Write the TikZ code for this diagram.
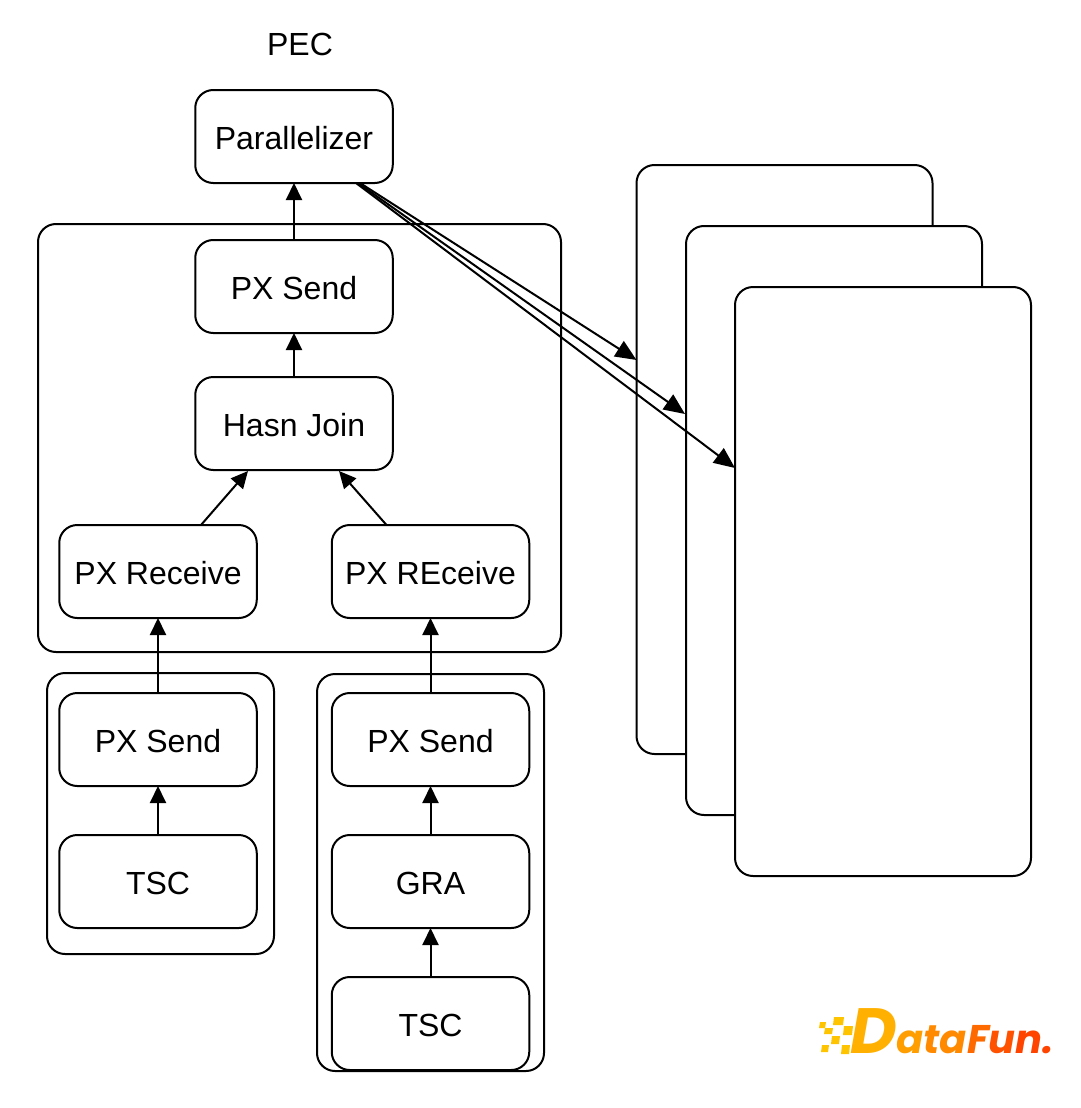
\documentclass[tikz,border=0pt]{standalone}
\usepackage{fontspec}
\setmainfont{Liberation Sans}
\newfontfamily\logofont{Poppins}
\usetikzlibrary{positioning,calc,arrows.meta}
\definecolor{logoa}{HTML}{FFC400}
\definecolor{logob}{HTML}{FFB000}
\definecolor{logoc}{HTML}{FF9E00}
\definecolor{logod}{HTML}{FF8A00}
\definecolor{logoe}{HTML}{FF6A00}
\definecolor{logof}{HTML}{FF5200}
\definecolor{logog}{HTML}{FF4400}
\tikzset{
  op/.style={rectangle, rounded corners=18pt, minimum width=197.5pt, minimum height=93pt, text centered, text height=25pt, text depth=0pt, draw=black, outer sep=0pt, font=\fontsize{32}{36}\selectfont},
  gr/.style={rectangle, rounded corners=18pt, draw=black, outer sep=0pt},
  pn/.style={rectangle, rounded corners=18pt, minimum width=296pt, minimum height=589pt, draw=black, fill=white, outer sep=0pt},
  ar/.style={-{Triangle[length=17pt,width=16pt]}},
  fan/.style={-{Triangle[length=21pt,width=18pt]}}
}
\begin{document}
\begin{tikzpicture}[x=1pt,y=-1pt,line width=2pt]
	\useasboundingbox (0,0) rectangle (1080,1108);
	\node[gr,minimum width=523pt,minimum height=428pt] (main) at (299.5,438) {};
	\node[gr,minimum width=227pt,minimum height=281pt] (grpl) at (160.5,813.5) {};
	\node[gr,minimum width=227pt,minimum height=397pt] (grpr) at (430.5,872.5) {};
	\node[pn] (pnla) at (784.5,459.5) {};
	\node[pn] (pnlb) at (834,520.5) {};
	\node[pn] (pnlc) at (883,581.5) {};
	\node[font=\fontsize{32}{36}\selectfont] (pec) at (300,44) {PEC};
	\node[op] (para) at (294,136.5) {Parallelizer};
	\node[op] (send) at (294,286.5) {PX Send};
	\node[op] (join) at (294,423.5) {Hasn Join};
	\node[op] (recvl) at (158,571.5) {PX Receive};
	\node[op] (recvr) at (430.5,571.5) {PX REceive};
	\node[op] (sendl) at (158,739.5) {PX Send};
	\node[op] (tscl) at (158,881.5) {TSC};
	\node[op] (sendr) at (430.5,739.5) {PX Send};
	\node[op] (gra) at (430.5,881.5) {GRA};
	\node[op] (tscr) at (430.5,1023.5) {TSC};
	\draw[ar] (send) -- (para);
	\draw[ar] (join) -- (send);
	\draw[ar] ($(recvl.north)+(43,0)$) -- ($(join.south)+(-46,1)$);
	\draw[ar] ($(recvr.north)+(-44,0)$) -- ($(join.south)+(45,1)$);
	\draw[ar] (sendl) -- (recvl);
	\draw[ar] (sendr) -- (recvr);
	\draw[ar] (tscl) -- (sendl);
	\draw[ar] (gra) -- (sendr);
	\draw[ar] (tscr) -- (gra);
	\draw[fan] ($(para.south)+(66,0)$) -- ($(pnla.north west)+(0,195)$);
	\draw[fan] ($(para.south)+(64,0)$) -- ($(pnlb.north west)+(-1,188)$);
	\draw[fan] ($(para.south)+(62,0)$) -- ($(pnlc.north west)+(0,181)$);
	\foreach \x/\y/\w/\h in {819/1022/7/6,833/1017/11/8,824/1028/9/6,843/1026/10/9,831/1036/9/8,821/1045/8/7,841/1045/9/9}
		\fill[logoa] ({\x+1},\y) -- ({\x+\w},\y) -- ({\x+\w-1},{\y+\h}) -- (\x,{\y+\h}) -- cycle;
	\node[anchor=base west,inner sep=0pt] (logo) at (849,1053) {\logofont\bfseries\itshape\fontsize{64}{70}\selectfont\color{logob}D\fontsize{40}{44}\selectfont\color{logoc}a\color{logod}t\color{logod}a\color{logoe}F\color{logof}u\color{logog}n.};
\end{tikzpicture}
\end{document}
